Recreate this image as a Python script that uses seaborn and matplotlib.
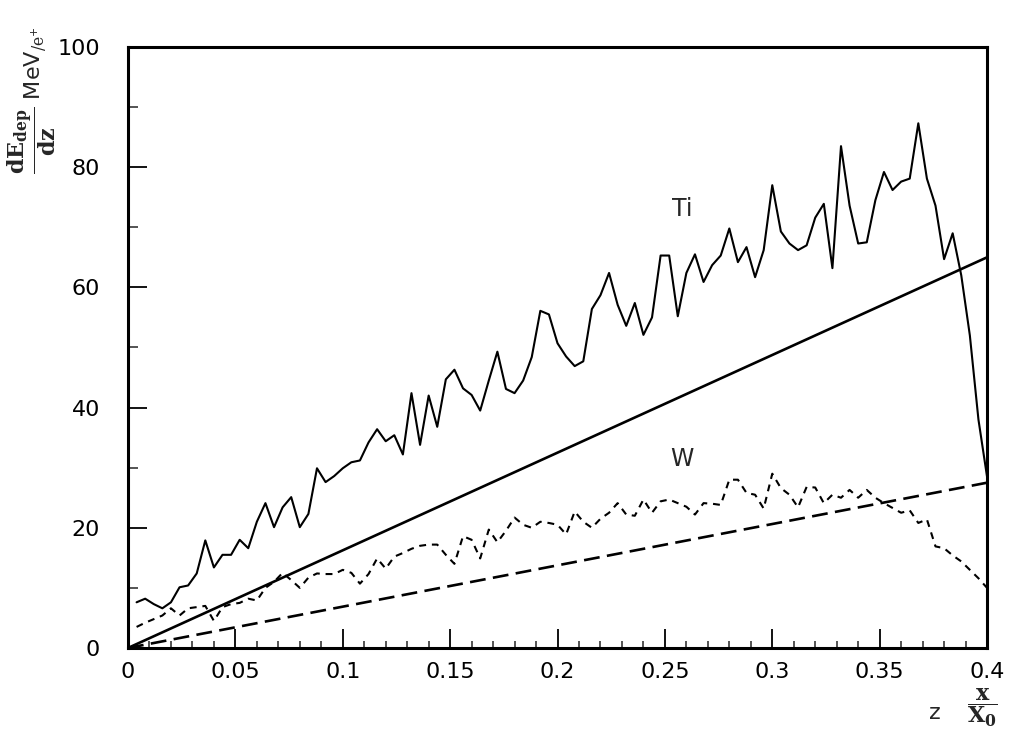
import numpy as np
import matplotlib
matplotlib.use("Agg")
import matplotlib.pyplot as plt
from matplotlib.ticker import MultipleLocator
import seaborn as sns

# Depth in units of radiation length (bin positions, step 0.004 X0)
z = np.round(np.arange(1, 101) * 0.004, 3)

# Deposited energy per unit depth, MeV per positron
ti_dep = [7.6, 8.2, 7.3, 6.6, 7.6, 10.1, 10.4, 12.4, 17.9, 13.4,
          15.5, 15.5, 18.0, 16.6, 21.0, 24.1, 20.1, 23.4, 25.1, 20.1,
          22.3, 29.9, 27.6, 28.6, 29.9, 30.9, 31.2, 34.2, 36.4, 34.4,
          35.4, 32.2, 42.4, 33.8, 42.0, 36.8, 44.7, 46.3, 43.2, 42.1,
          39.5, 44.5, 49.3, 43.1, 42.4, 44.5, 48.4, 56.1, 55.5, 50.7,
          48.5, 46.9, 47.7, 56.4, 58.7, 62.4, 57.1, 53.6, 57.4, 52.1,
          55.0, 65.3, 65.3, 55.2, 62.4, 65.5, 60.9, 63.7, 65.3, 69.8,
          64.2, 66.7, 61.7, 66.2, 77.0, 69.3, 67.3, 66.2, 67.0, 71.6,
          73.9, 63.2, 83.5, 73.6, 67.3, 67.5, 74.5, 79.2, 76.2, 77.6,
          78.1, 87.3, 78.1, 73.6, 64.7, 69.0, 62.0, 52.0, 38.0, 28.5]

w_dep = [3.5, 4.2, 4.8, 5.4, 6.6, 5.4, 6.6, 6.8, 7.0, 4.5,
         6.8, 7.3, 7.5, 8.2, 7.9, 10.0, 11.0, 12.5, 11.3, 10.0,
         11.7, 12.4, 12.3, 12.3, 13.0, 12.5, 10.7, 12.3, 14.9, 13.2,
         15.2, 15.8, 16.5, 17.0, 17.2, 17.2, 15.5, 14.0, 18.6, 18.0,
         14.9, 19.7, 17.6, 19.5, 21.7, 20.5, 20.0, 21.0, 20.8, 20.5,
         18.9, 22.7, 21.0, 20.0, 21.5, 22.5, 24.1, 22.2, 22.0, 24.7,
         22.5, 24.4, 24.7, 24.1, 23.5, 22.2, 24.1, 24.0, 23.8, 28.0,
         28.0, 25.8, 25.5, 23.2, 29.0, 26.6, 25.5, 23.4, 26.8, 26.7,
         24.1, 25.5, 25.0, 26.3, 25.0, 26.3, 25.0, 24.1, 23.3, 22.5,
         22.9, 20.8, 21.4, 16.9, 16.6, 15.4, 14.4, 13.0, 11.6, 10.0]

# Linear reference curves (end points)
ref_z = [0.0, 0.4]
ti_ref = [0.0, 65.0]
w_ref = [0.0, 27.5]

xticks = [0, 0.05, 0.1, 0.15, 0.2, 0.25, 0.3, 0.35, 0.4]
xtick_labels = ["0", "0.05", "0.1", "0.15", "0.2", "0.25", "0.3", "0.35", "0.4"]
yticks = [0, 20, 40, 60, 80, 100]
ytick_labels = ["0", "20", "40", "60", "80", "100"]

sns.set_theme(style="ticks")
plt.rcParams["font.family"] = ["DejaVu Sans"]
plt.rcParams["mathtext.fontset"] = "dejavuserif"

fig = plt.figure(figsize=(10.11, 7.33), dpi=100)
ax = fig.add_axes([0.1266, 0.1160, 0.8497, 0.8199])

sns.lineplot(x=z, y=ti_dep, ax=ax, color="black", linewidth=1.5)
sns.lineplot(x=z, y=w_dep, ax=ax, color="black", linewidth=1.5,
             linestyle=(0, (3.3, 2.8)))
sns.lineplot(x=ref_z, y=ti_ref, ax=ax, color="black", linewidth=1.9)
sns.lineplot(x=ref_z, y=w_ref, ax=ax, color="black", linewidth=1.9,
             linestyle=(0, (6, 2.8)))

ax.set_xlim(0, 0.4)
ax.set_ylim(0, 100)
ax.set_xticks(xticks)
ax.set_xticklabels(xtick_labels)
ax.set_yticks(yticks)
ax.set_yticklabels(ytick_labels)
ax.xaxis.set_minor_locator(MultipleLocator(0.01))
ax.yaxis.set_minor_locator(MultipleLocator(10))

ax.tick_params(axis="both", which="major", direction="in", length=14,
               width=1.3, labelsize=16, colors="black")
ax.tick_params(axis="x", which="major", pad=10)
ax.tick_params(axis="y", which="major", pad=20)
ax.tick_params(axis="x", which="minor", direction="in", length=5,
               width=1.1)
ax.tick_params(axis="y", which="minor", direction="in", length=7,
               width=1.1)
ax.tick_params(top=False, right=False, which="both")

for side in ["left", "right", "top", "bottom"]:
    ax.spines[side].set_visible(True)
    ax.spines[side].set_linewidth(2.2)
    ax.spines[side].set_color("black")

ax.set_xlabel("")
ax.set_ylabel("")

ax.text(0.258, 73, "Ti", fontsize=17, ha="center", va="center")
ax.text(0.258, 31.5, "W", fontsize=17, ha="center", va="center")

fig.text(32 / 1011, 1 - 100 / 733,
         r"$\mathbf{\dfrac{dE_{dep}}{dz}}$ MeV$_{/\mathrm{e}^{+}}$",
         rotation=90, fontsize=16, ha="center", va="center")
fig.text(935 / 1011, 1 - 713 / 733, "z", fontsize=16,
         ha="center", va="center")
fig.text(982 / 1011, 1 - 708 / 733,
         r"$\mathbf{\dfrac{x}{X_0}}$", fontsize=16,
         ha="center", va="center")

fig.savefig("out.png", dpi=100, facecolor="white")
